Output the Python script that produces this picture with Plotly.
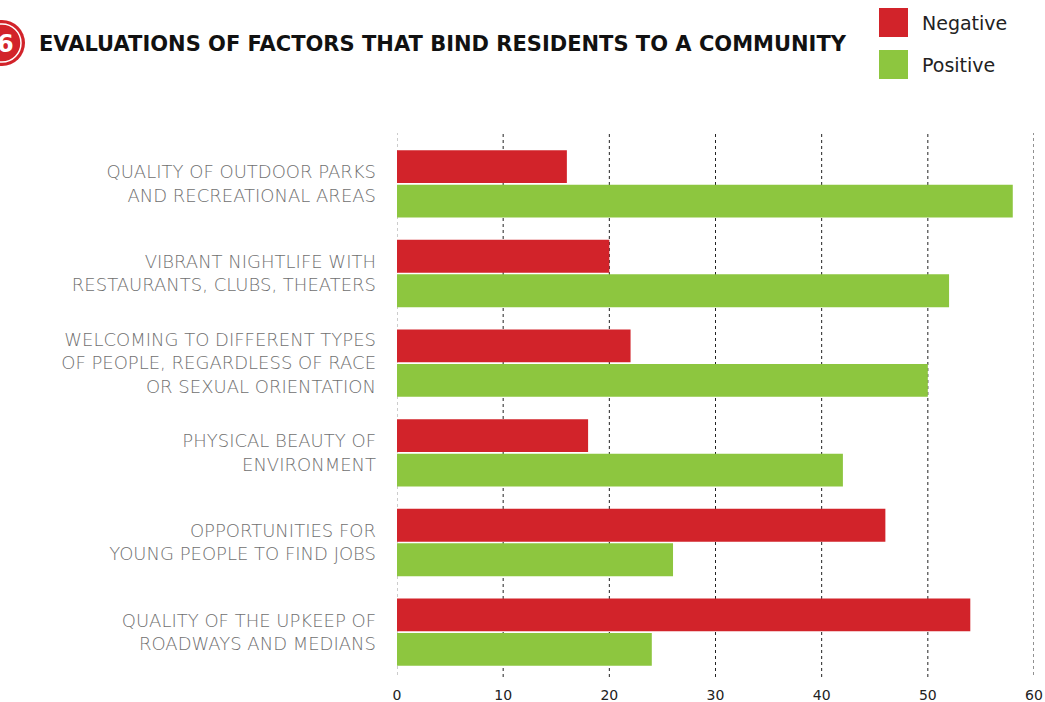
import plotly.graph_objects as go

categories = [
    "QUALITY OF OUTDOOR PARKS<br>AND RECREATIONAL AREAS",
    "VIBRANT NIGHTLIFE WITH<br>RESTAURANTS, CLUBS, THEATERS",
    "WELCOMING TO DIFFERENT TYPES<br>OF PEOPLE, REGARDLESS OF RACE<br>OR SEXUAL ORIENTATION",
    "PHYSICAL BEAUTY OF<br>ENVIRONMENT",
    "OPPORTUNITIES FOR<br>YOUNG PEOPLE TO FIND JOBS",
    "QUALITY OF THE UPKEEP OF<br>ROADWAYS AND MEDIANS",
]
negative = [16, 20, 22, 18, 46, 54]
positive = [58, 52, 50, 42, 26, 24]
x_ticks = [0, 10, 20, 30, 40, 50, 60]

RED = "#D2232A"
GREEN = "#8DC63F"
FONT = "DejaVu Sans, sans-serif"
W, H = 1045, 702
L, R, T, B = 397, 11, 139, 25
pw = W - L - R
ph = H - T - B

def px(x):
    return (x - L) / pw

def py(y):
    return 1 - (y - T) / ph

fig = go.Figure()
fig.add_trace(go.Bar(y=categories, x=negative, name="Negative", orientation="h",
                     marker=dict(color=RED, line=dict(width=0))))
fig.add_trace(go.Bar(y=categories, x=positive, name="Positive", orientation="h",
                     marker=dict(color=GREEN, line=dict(width=0))))

shapes = []
# gridlines at the axis ends, slightly taller than the plot like the reference
for xv, col in ((x_ticks[0], "#999"), (x_ticks[-1], "#222")):
    shapes.append(dict(type="line", xref="x", yref="paper", x0=xv, x1=xv,
                       y0=py(675), y1=py(133), layer="below",
                       line=dict(color=col, width=1, dash="dot")))
for xv in x_ticks[1:-1]:
    shapes.append(dict(type="line", xref="x", yref="paper", x0=xv, x1=xv,
                       y0=py(677), y1=py(133), layer="below",
                       line=dict(color="#222", width=1, dash="dot")))
shapes.append(dict(type="rect", xref="paper", yref="paper", x0=px(879), x1=px(908),
                   y0=py(37), y1=py(8), fillcolor=RED, line=dict(width=0)))
shapes.append(dict(type="rect", xref="paper", yref="paper", x0=px(879), x1=px(908),
                   y0=py(79), y1=py(50), fillcolor=GREEN, line=dict(width=0)))
shapes.append(dict(type="circle", xref="paper", yref="paper", x0=px(-21), x1=px(25),
                   y0=py(66), y1=py(20), fillcolor=RED, line=dict(width=0)))
shapes.append(dict(type="circle", xref="paper", yref="paper", x0=px(-17), x1=px(21),
                   y0=py(62), y1=py(24), fillcolor="rgba(0,0,0,0)",
                   line=dict(width=1.5, color="white")))

annotations = [
    dict(text="<b>EVALUATIONS OF FACTORS THAT BIND RESIDENTS TO A COMMUNITY</b>",
         xref="paper", yref="paper", x=px(37), y=py(44), xanchor="left", yanchor="middle",
         showarrow=False, font=dict(family=FONT, size=21, color="#111")),
    dict(text="<b>6</b>", xref="paper", yref="paper", x=px(5), y=py(44),
         xanchor="center", yanchor="middle", showarrow=False,
         font=dict(family=FONT, size=24, color="white")),
    dict(text="Negative", xref="paper", yref="paper", x=px(920), y=py(23),
         xanchor="left", yanchor="middle", showarrow=False,
         font=dict(family=FONT, size=19, color="#222")),
    dict(text="Positive", xref="paper", yref="paper", x=px(920), y=py(65),
         xanchor="left", yanchor="middle", showarrow=False,
         font=dict(family=FONT, size=19, color="#222")),
]

fig.update_layout(
    width=W, height=H,
    margin=dict(l=L, r=R, t=T, b=B, autoexpand=False),
    paper_bgcolor="white", plot_bgcolor="white",
    barmode="group", bargap=0.23, bargroupgap=0.05,
    showlegend=False,
    shapes=shapes, annotations=annotations,
    font=dict(family=FONT),
)
fig.update_xaxes(range=[0, 60], tickvals=x_ticks, showgrid=False,
                 zeroline=False, showline=False,
                 tickfont=dict(size=14, color="#222"), ticks="", ticklabelstandoff=8)
fig.update_yaxes(autorange="reversed", showgrid=False, showline=False, ticks="",
                 tickfont=dict(size=18, color="#707070", family=FONT, weight=200),
                 ticklabelstandoff=20)
fig.write_html("out.html", post_script="document.body.style.margin='0';",
               config={"displayModeBar": False})
